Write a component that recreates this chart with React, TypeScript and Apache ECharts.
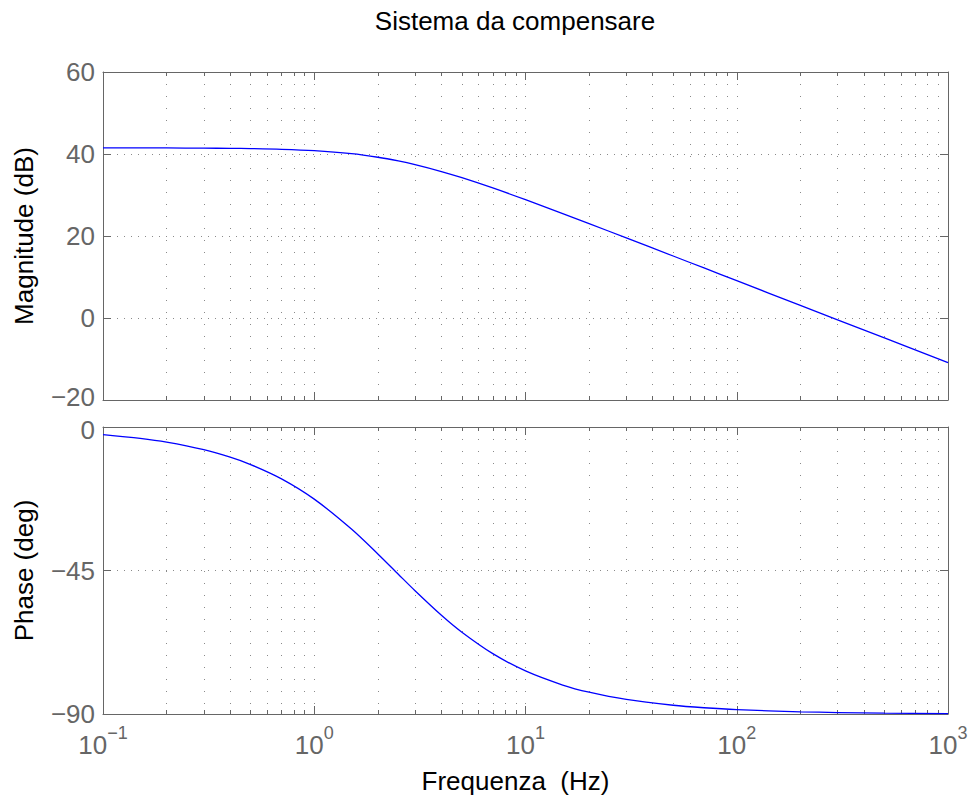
import React, { useEffect, useRef } from "react";
import * as echarts from "echarts";

const frequencies = [0.1, 0.15, 0.2, 0.3, 0.4, 0.5, 0.7, 1, 1.5, 2, 2.5, 3, 4, 5, 7, 10, 15, 20, 30, 50, 70, 100, 200, 300, 500, 1000];
// Magnitude (dB)
const magnitude = [41.49, 41.48, 41.47, 41.43, 41.38, 41.32, 41.15, 40.8, 40.07, 39.21, 38.31, 37.41, 35.73, 34.22, 31.72, 28.86, 25.47, 23.02, 19.53, 15.12, 12.2, 9.1, 3.08, -0.44, -4.87, -10.9];
// Phase (deg)
const phase = [-2.39, -3.58, -4.76, -7.13, -9.46, -11.77, -16.26, -22.62, -32.01, -39.81, -46.17, -51.34, -59.04, -64.36, -71.08, -76.5, -80.91, -83.16, -85.43, -87.25, -88.04, -88.63, -89.31, -89.54, -89.72, -89.86];

const magTicks = [-20, 0, 20, 40, 60];
const phaseTicks = [-90, -45, 0];

const FONT = '"Liberation Sans", Arial, Helvetica, sans-serif';
const GRAY = "#666666";
const GRID_GRAY = "#8a8a8a";
const FS = 26;

const TITLE = "Sistema da compensare";
const X_NAME = "Frequenza  (Hz)";
const Y_NAMES = ["Magnitude (dB)", "Phase (deg)"];

const minus = (v: number) => String(v).replace("-", "\u2212");

export default function App() {
  const ref = useRef<HTMLDivElement>(null);
  useEffect(() => {
    if (!ref.current) return;
    const chart = echarts.init(ref.current, null, { renderer: "svg" });

    const grids = [
      { left: 103, top: 72, width: 845, height: 328 },
      { left: 103, top: 427, width: 845, height: 287 },
    ];

    const vDotted = { show: true, lineStyle: { color: GRID_GRAY, width: 1, type: [1, 11] as any } };
    const hDotted = { show: true, lineStyle: { color: GRID_GRAY, width: 1, type: [1, 6] as any } };

    const mkX = (gridIndex: number, position: "top" | "bottom", withLabels: boolean, withGrid: boolean) => ({
      type: "log",
      logBase: 10,
      gridIndex,
      position,
      min: 0.1,
      max: 1000,
      splitNumber: 4,
      axisLine: { show: true, onZero: false, lineStyle: { color: GRAY, width: 1 } },
      axisTick: { show: true, inside: true, length: 8, lineStyle: { color: GRAY } },
      minorTick: { show: true, splitNumber: 9, length: 4, lineStyle: { color: GRAY } },
      axisLabel: withLabels
        ? {
            show: true,
            margin: 10,
            formatter: (v: number) => {
              const e = Math.round(Math.log10(v));
              return `{b|10}{e|${e < 0 ? "\u2212" + -e : e}}`;
            },
            rich: {
              b: { fontSize: FS, fontFamily: FONT, color: GRAY },
              e: { fontSize: 18, fontFamily: FONT, color: GRAY, padding: [0, 0, 24, 0] },
            },
          }
        : { show: false },
      splitLine: withGrid ? vDotted : { show: false },
      minorSplitLine: withGrid ? vDotted : { show: false },
      name: withLabels ? X_NAME : "",
      nameLocation: "middle",
      nameGap: 54,
      nameTextStyle: { fontSize: FS, fontFamily: FONT, color: "#000", padding: [0, 20, 0, 0] },
    });

    const labelRich = {
      n: { fontSize: FS, fontFamily: FONT, color: GRAY },
      lo: { fontSize: FS, fontFamily: FONT, color: GRAY, padding: [0, 0, 6, 0] },
      hi: { fontSize: FS, fontFamily: FONT, color: GRAY, padding: [6, 0, 0, 0] },
    };

    const mkY = (gridIndex: number, position: "left" | "right", min: number, max: number, interval: number, name: string) => ({
      type: "value",
      gridIndex,
      position,
      min,
      max,
      interval,
      axisLine: { show: true, onZero: false, lineStyle: { color: GRAY, width: 1 } },
      axisTick: { show: true, inside: true, length: 8, lineStyle: { color: GRAY } },
      axisLabel:
        position === "left"
          ? {
              show: true,
              margin: 8,
              fontSize: FS,
              fontFamily: FONT,
              color: GRAY,
              rich: labelRich,
              formatter: (v: number) => {
                // nudge the two crowded labels at the junction of the panels apart
                const style = gridIndex === 0 && v === min ? "lo" : gridIndex === 1 && v === max ? "hi" : "n";
                return `{${style}|${minus(v)}}`;
              },
            }
          : { show: false },
      splitLine: position === "left" ? hDotted : { show: false },
      name: position === "left" ? name : "",
      nameLocation: "middle",
      nameGap: 66,
      nameTextStyle: { fontSize: FS, fontFamily: FONT, color: "#000" },
    });

    const magData = frequencies.map((f, i) => [f, magnitude[i]]);
    const phaseData = frequencies.map((f, i) => [f, phase[i]]);

    chart.setOption({
      animation: false,
      backgroundColor: "#ffffff",
      grid: grids,
      xAxis: [
        mkX(0, "bottom", false, true),
        mkX(0, "top", false, false),
        mkX(1, "bottom", true, true),
        mkX(1, "top", false, false),
      ],
      yAxis: [
        mkY(0, "left", magTicks[0], magTicks[magTicks.length - 1], 20, Y_NAMES[0]),
        mkY(0, "right", magTicks[0], magTicks[magTicks.length - 1], 20, ""),
        mkY(1, "left", phaseTicks[0], phaseTicks[phaseTicks.length - 1], 45, Y_NAMES[1]),
        mkY(1, "right", phaseTicks[0], phaseTicks[phaseTicks.length - 1], 45, ""),
      ],
      graphic: [
        {
          type: "text",
          x: 515,
          y: 21,
          style: {
            text: TITLE,
            fontSize: FS,
            fontFamily: FONT,
            fill: "#000",
            textAlign: "center",
            textVerticalAlign: "middle",
          },
        },
      ],
      series: [
        {
          type: "line",
          xAxisIndex: 0,
          yAxisIndex: 0,
          data: magData,
          showSymbol: false,
          smooth: 0.3,
          lineStyle: { color: "#0000ff", width: 1.3 },
          silent: true,
        },
        {
          type: "line",
          xAxisIndex: 2,
          yAxisIndex: 2,
          data: phaseData,
          showSymbol: false,
          smooth: 0.3,
          lineStyle: { color: "#0000ff", width: 1.3 },
          silent: true,
        },
      ],
    });
    return () => chart.dispose();
  }, []);
  return <div ref={ref} style={{ position: "fixed", left: 0, top: 0, width: 972, height: 798, background: "#fff" }} />;
}
